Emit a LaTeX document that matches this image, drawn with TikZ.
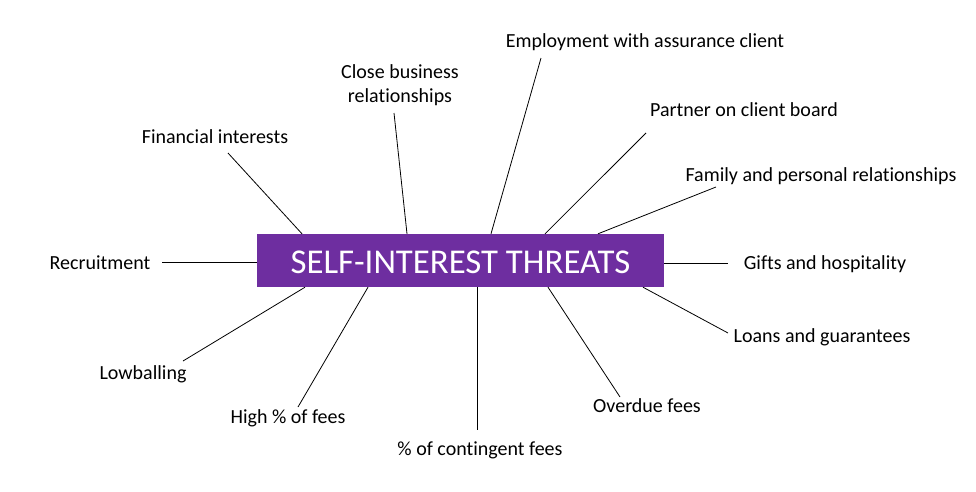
\documentclass[tikz,border=0pt]{standalone}
\usepackage{fontspec}
\setmainfont{Carlito}[Ligatures=NoCommon]
\usepackage{tikz}
\definecolor{sipurple}{RGB}{110,46,160}

\begin{document}
\begin{tikzpicture}[x=1pt,y=-1pt]
    \tikzset{
      lbl/.style={anchor=base, inner sep=0pt, font=\fontsize{20}{24}\selectfont},
      spoke/.style={black, line width=0.8pt}
    }
    \useasboundingbox (0,0) rectangle (976,491);

    % Centre box
    \node[fill=sipurple, text=white, minimum width=407pt, minimum height=53pt,
          inner sep=0pt, text height=25.5pt, text depth=0pt,
          font=\fontsize{34.8}{40}\selectfont] (threats) at (460.5,260.5)
          {SELF-INTEREST THREATS};

    % Labels above
    \node[lbl] (emp) at (645,47) {Employment with assurance client};
    \node[lbl, anchor=center, align=center] (close) at (400,85) {Close business\\relationships};
    \node[lbl] (partner) at (744,116) {Partner on client board};
    \node[lbl] (fin) at (215,143) {Financial interests};
    \node[lbl] (fam) at (821,181) {Family and personal relationships};

    % Labels level with the box
    \node[lbl] (recr) at (100,269) {Recruitment};
    \node[lbl] (gifts) at (825,269) {Gifts and hospitality};

    % Labels below
    \node[lbl] (loans) at (822,342) {Loans and guarantees};
    \node[lbl] (low) at (143,379) {Lowballing};
    \node[lbl] (overdue) at (647,412) {Overdue fees};
    \node[lbl] (high) at (288,423) {High \% of fees};
    \node[lbl] (cont) at (480,455) {\% of contingent fees};

    % Free ends of the spokes
    \coordinate (emp-tip) at (541,58);
    \coordinate (close-tip) at (394,113);
    \coordinate (partner-tip) at (646,133);
    \coordinate (fin-tip) at (228,153);
    \coordinate (fam-tip) at (716,187);
    \coordinate (recr-tip) at (162,262);
    \coordinate (gifts-tip) at (728,263);
    \coordinate (loans-tip) at (728,333);
    \coordinate (low-tip) at (183,361);
    \coordinate (overdue-tip) at (620,397);
    \coordinate (high-tip) at (298,407);
    \coordinate (cont-tip) at (477,430);

    % Spokes from the box
    \draw[spoke] (threats.north -| 491,0) -- (emp-tip);
    \draw[spoke] (threats.north -| 407,0) -- (close-tip);
    \draw[spoke] (threats.north -| 545,0) -- (partner-tip);
    \draw[spoke] (threats.north -| 302,0) -- (fin-tip);
    \draw[spoke] (threats.north -| 598,0) -- (fam-tip);
    \draw[spoke] (threats.west |- 0,262) -- (recr-tip);
    \draw[spoke] (threats.east |- 0,263) -- (gifts-tip);
    \draw[spoke] (threats.south -| 643,0) -- (loans-tip);
    \draw[spoke] (threats.south -| 305,0) -- (low-tip);
    \draw[spoke] (threats.south -| 548,0) -- (overdue-tip);
    \draw[spoke] (threats.south -| 368,0) -- (high-tip);
    \draw[spoke] (threats.south -| 477,0) -- (cont-tip);
\end{tikzpicture}
\end{document}
